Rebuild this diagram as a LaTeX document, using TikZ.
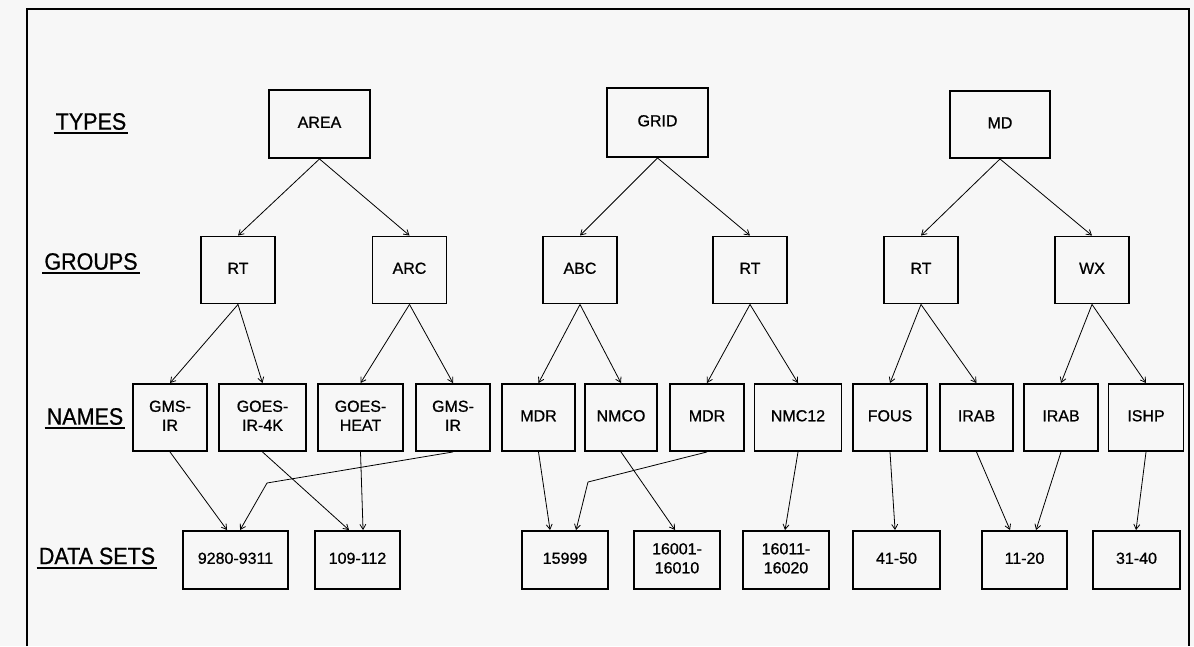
\documentclass[tikz,border=0pt]{standalone}
\usepackage{fontspec}
\setmainfont{Liberation Sans}
\newfontfamily\scanfont[BoldFont={Liberation Sans}, BoldFeatures={FakeBold=0.8}]{Liberation Sans}
\usetikzlibrary{calc,arrows.meta}
\newcommand{\boxtxt}[1]{\begin{tabular}{@{}c@{}}#1\end{tabular}}
\newcommand{\lbltxt}[1]{\scalebox{1}[1.1]{#1}}
\tikzset{
  bx/.style={draw, line width=1.9pt, inner sep=0pt, align=center,
    font=\scanfont\bfseries\fontsize{16}{19}\selectfont},
  lvl/.style={inner xsep=2pt, inner ysep=0pt, font=\scanfont\bfseries\fontsize{21.5}{24}\selectfont},
  uline/.style={line width=2pt},
  arr/.style={line width=0.8pt, -{Straight Barb[length=5pt,width=6pt]}},
  seg/.style={line width=0.8pt},
  frame/.style={line width=1.8pt}
}
\begin{document}
\begin{tikzpicture}[x=1pt,y=-1pt]
\useasboundingbox[fill=gray!6] (0,0) rectangle (1194,646);
% frame
\coordinate (f1) at (27,646);
\coordinate (f2) at (27,9);
\coordinate (f3) at (1189,9);
\coordinate (f4) at (1189,646);
\draw[frame] (f1) -- (f2) -- (f3) -- (f4);

% level labels
\node[lvl] (lT) at (91,121.5) {\lbltxt{TYPES}};
\node[lvl] (lG) at (91,261.5) {\lbltxt{GROUPS}};
\node[lvl] (lN) at (85,416.5) {\lbltxt{NAMES}};
\node[lvl] (lD) at (97,556) {\lbltxt{DATA SETS}};
\foreach \l in {lT,lG,lN,lD}{
  \draw[uline] ($(\l.south west)+(0,3)$) -- ($(\l.south east)+(0,3)$);
}

% types
\node[bx, minimum width=101pt, minimum height=68pt] (area) at (319.5,124) {\boxtxt{AREA}};
\node[bx, minimum width=101pt, minimum height=69pt] (grid) at (657.5,122.5) {\boxtxt{GRID}};
\node[bx, minimum width=100pt, minimum height=67pt] (md) at (1000,124.5) {\boxtxt{MD}};

% groups
\foreach \n/\x/\t in {rta/238/RT, arc/409.5/ARC, abc/580/ABC, rtb/750/RT, rtc/921/RT, wx/1092/WX}{
  \node[bx, minimum width=74pt, minimum height=67pt] (\n) at (\x,270) {\boxtxt{\t}};
}

% names
\foreach \n/\x/\w/\t in {gmsa/170/74/{GMS-\\IR}, goesa/262.5/87/{GOES-\\IR-4K}, goesb/360.5/85/{GOES-\\HEAT},
  gmsb/453/74/{GMS-\\IR}, mdra/538.5/73/MDR, nmco/621/72/NMCO, mdrb/707/74/MDR, nmc/798/87/NMC12,
  fous/890/74/FOUS, iraba/976.5/73/IRAB, irabb/1061/74/IRAB, ishp/1146/75/ISHP}{
  \node[bx, minimum width=\w pt, minimum height=67pt] (\n) at (\x,417.5) {\boxtxt{\t}};
}

% data sets
\foreach \n/\x/\w/\t in {da/235.5/105/9280-9311, db/357.5/85/109-112, dc/565/86/15999,
  dd/677/86/{16001-\\16010}, de/786/86/{16011-\\16020}, df/896.5/87/41-50,
  dg/1024.5/85/11-20, dh/1136.5/87/31-40}{
  \node[bx, minimum width=\w pt, minimum height=58pt] (\n) at (\x,560) {\boxtxt{\t}};
}

% tree arrows
\foreach \p/\c in {area/rta, area/arc, grid/abc, grid/rtb, md/rtc, md/wx,
  rta/gmsa, rta/goesa, arc/goesb, arc/gmsb, abc/mdra, abc/nmco, rtb/mdrb, rtb/nmc,
  rtc/fous, rtc/iraba, wx/irabb, wx/ishp}{
  \draw[arr] (\p.south) -- (\c.north);
}

% names -> data sets
\draw[arr] (gmsa.south) -- ($(da.north west)+(45,0)$);
\draw[arr] (goesa.south) -- ($(db.north west)+(35,0)$);
\draw[arr] (goesb.south) -- ($(db.north west)+(49,0)$);
\coordinate (bend1) at (267,483);
\draw[seg] (gmsb.south) -- (bend1);
\draw[arr] (bend1) -- ($(da.north west)+(58,0)$);
\draw[arr] (mdra.south) -- ($(dc.north west)+(29,0)$);
\coordinate (bend2) at (588,482);
\draw[seg] (mdrb.south) -- (bend2);
\draw[arr] (bend2) -- ($(dc.north west)+(55,0)$);
\draw[arr] (nmco.south) -- ($(dd.north west)+(42,0)$);
\draw[arr] (nmc.south) -- ($(de.north west)+(43,0)$);
\draw[arr] (fous.south) -- ($(df.north west)+(43,0)$);
\draw[arr] (iraba.south) -- ($(dg.north west)+(29,0)$);
\draw[arr] (irabb.south) -- ($(dg.north west)+(55,0)$);
\draw[arr] (ishp.south) -- ($(dh.north west)+(44,0)$);
\end{tikzpicture}
\end{document}
